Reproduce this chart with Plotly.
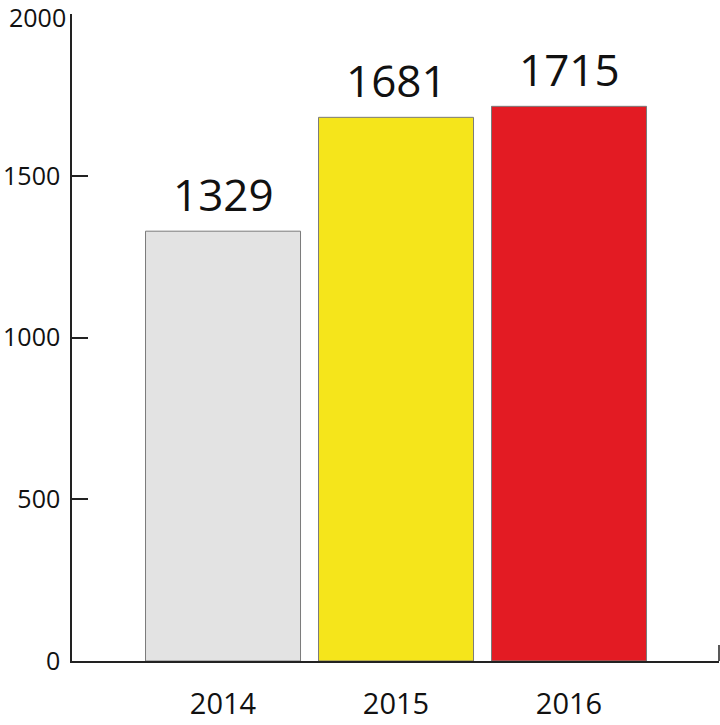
import plotly.graph_objects as go

years = ["2014", "2015", "2016"]
values = [1329, 1681, 1715]
colors = ["#e3e3e3", "#f5e51b", "#e31b23"]
y_ticks = [0, 500, 1000, 1500, 2000]
y_tick_text = ["0", "500", "1000", "1500", ""]
top_tick_label = "2000"

fig = go.Figure()
fig.add_trace(go.Bar(
    x=years, y=values, width=0.896,
    marker=dict(color=colors, line=dict(color="#7a7a7a", width=1)),
    hoverinfo="skip",
))
for i, v in enumerate(values):
    fig.add_annotation(x=i, y=v, xref="x", yref="y", text=str(v), showarrow=False,
                       yanchor="bottom", yshift=5,
                       font=dict(family="Open Sans", size=44, color="#111"))

# top y tick label placed as annotation so it stays inside the page
fig.add_annotation(x=0, y=y_ticks[-1], xref="paper", yref="y", text=top_tick_label,
                   showarrow=False, xanchor="right", yanchor="middle", xshift=-4, yshift=-3,
                   font=dict(family="Open Sans", size=25, color="#111"))

fig.add_shape(type="line", xref="paper", yref="paper", x0=1, x1=1, y0=0, y1=16/647,
              line=dict(color="#222", width=1.5))

fig.update_layout(
    width=720, height=725, autosize=False,
    margin=dict(l=72, r=1, t=14, b=64, autoexpand=False),
    plot_bgcolor="white", paper_bgcolor="white",
    showlegend=False,
    font=dict(family="Open Sans", color="#111"),
    xaxis=dict(type="category", range=[-0.873, 2.867], showline=True, linecolor="#222",
               linewidth=1.5, ticks="", showgrid=False, zeroline=False,
               tickfont=dict(size=29), ticklabelstandoff=16),
    yaxis=dict(range=[0, 2000.5], tickvals=y_ticks, ticktext=y_tick_text, showline=True,
               linecolor="#222", linewidth=1.5, ticks="inside", ticklen=16, tickwidth=1.5,
               tickcolor="#222", showgrid=False, zeroline=False, tickfont=dict(size=25),
               ticklabelstandoff=5, ticklabeloverflow="allow"),
)
fig.write_html("out.html", config={"responsive": False, "displayModeBar": False},
               post_script="document.body.style.margin='0';document.body.style.overflow='hidden';")
